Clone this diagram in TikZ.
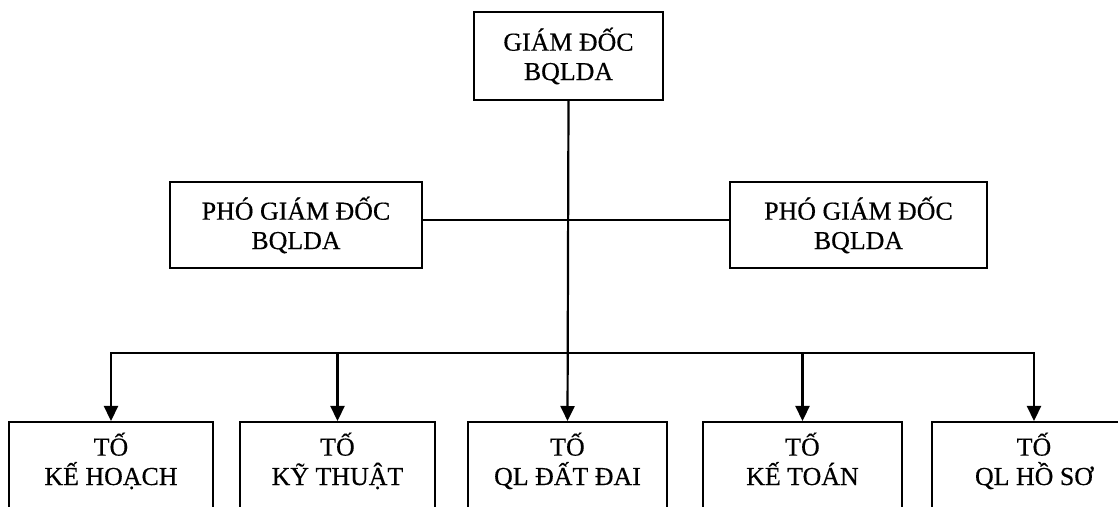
\documentclass[tikz,border=0pt]{standalone}
\usepackage{fontspec}
\setmainfont[FakeBold=0.4]{Liberation Serif}
\usetikzlibrary{arrows.meta}
\begin{document}
\begin{tikzpicture}[x=1bp,y=-1bp,
  txt/.style={align=center, inner sep=0pt, font=\fontsize{26}{29.5}\selectfont},
  box/.style={txt, draw, line width=2.4bp, rectangle},
  tbox/.style={draw, line width=2.4bp, rectangle, inner sep=0pt, minimum height=120bp, anchor=north},
  conn/.style={line width=2.2bp, line cap=rect},
  arr/.style={line width=2.2bp, -{Triangle[length=15bp,width=14bp]}}]
\useasboundingbox (0,0) rectangle (1118,507);
\clip (0,0) rectangle (1118,507);
\fill[white] (0,0) rectangle (1118,507);
% top
\node[box, minimum width=189bp, minimum height=88bp] (gd) at (568.5,56) {GIÁM ĐỐC\\BQLDA};
% deputies
\node[box, minimum width=252bp, minimum height=86bp] (pgdL) at (296,225) {PHÓ GIÁM ĐỐC\\BQLDA};
\node[box, minimum width=257bp, minimum height=86bp] (pgdR) at (858.5,225) {PHÓ GIÁM ĐỐC\\BQLDA};
% bottom boxes
\node[tbox, minimum width=204bp] (b1) at (111,421) {};
\node[tbox, minimum width=195bp] (b2) at (337.5,421) {};
\node[tbox, minimum width=199bp] (b3) at (567.5,421) {};
\node[tbox, minimum width=199bp] (b4) at (802.5,421) {};
\node[tbox, minimum width=204bp] (b5) at (1034,421) {};
\node[txt, anchor=base] (t1) at (111,485) {TỐ\\KẾ HOẠCH};
\node[txt, anchor=base] (t2) at (337.5,485) {TỐ\\KỸ THUẬT};
\node[txt, anchor=base] (t3) at (567.5,485) {TỐ\\QL ĐẤT ĐAI};
\node[txt, anchor=base] (t4) at (802.5,485) {TỐ\\KẾ TOÁN};
\node[txt, anchor=base] (t5) at (1034,485) {TỐ\\QL HỒ SƠ};
% connectors
\coordinate (bus) at (567,353);
\draw[conn] ([yshift=5bp]pgdL.east) -- ([yshift=5bp]pgdR.west);
\draw[conn] (b1.north |- bus) -- (b5.north |- bus);
\draw[arr] (gd.south) -- (b3.north);
\draw[arr] (b1.north |- bus) -- (b1.north);
\draw[arr] (b2.north |- bus) -- (b2.north);
\draw[arr] (b4.north |- bus) -- (b4.north);
\draw[arr] (b5.north |- bus) -- (b5.north);
\end{tikzpicture}
\end{document}
